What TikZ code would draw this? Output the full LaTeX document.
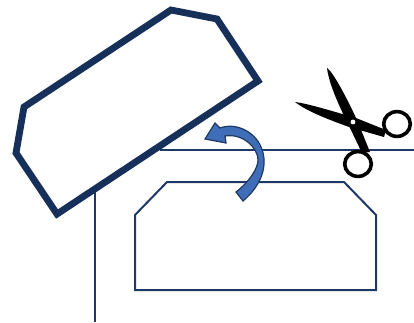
\documentclass[tikz,border=0pt]{standalone}
\definecolor{navy}{HTML}{17305A}
\definecolor{foldblue}{HTML}{1F3864}
\definecolor{arrowfill}{HTML}{3F6DB8}
\tikzset{
  thinline/.style={draw=foldblue,line width=2pt,line join=miter},
  cutpiece/.style={draw=navy,line width=6.8pt,line join=miter},
  bentarrow/.style={draw=foldblue,fill=arrowfill,line width=1.2pt,line join=miter},
  blade/.style={fill=black,draw=none},
  ringhole/.style={draw=black,line width=3.6pt,fill=none}
}
\begin{document}
\begin{tikzpicture}[x=1pt,y=-1pt]
\useasboundingbox (0,0) rectangle (414,322);
% fold lines
\draw[thinline] (160,149.5) -- (414,149.5);
\draw[thinline] (95,190) -- (95,322);
% lower panel
\draw[thinline] (167,182) -- (344,182) -- (376,215) -- (376,290) -- (135,290) -- (135,215) -- cycle;
% lifted piece
\draw[cutpiece] (171,10) -- (217,19) -- (258,81) -- (57,214) -- (16,153) -- (24,107) -- cycle;
% curved arrow
\draw[bentarrow] (205,139) -- (215,123) -- (220,128)
  .. controls (236,122) and (255,132) .. (261,147)
  .. controls (269,165) and (261,186) .. (243,201)
  -- (236,192)
  .. controls (250,181) and (258,168) .. (258,160)
  .. controls (258,148) and (243,133) .. (225,136)
  -- (226,143) -- cycle;
% scissors
\fill[blade] (327,68) .. controls (332,71) and (344,92) .. (357,120)
  -- (370,152) -- (362,153) -- (350,128)
  .. controls (341,110) and (329,85) .. (327,68) -- cycle;
\fill[blade] (295,102) .. controls (310,104) and (335,112) .. (356,118)
  -- (386,130) -- (384,137) -- (349,127)
  .. controls (330,120) and (308,112) .. (295,102) -- cycle;
\draw[ringhole] (358,164) ellipse (13.3 and 12.4);
\draw[ringhole] (397,124) ellipse (13.3 and 12.4);
\fill[white] (353,122) circle (2.4);
\end{tikzpicture}
\end{document}
